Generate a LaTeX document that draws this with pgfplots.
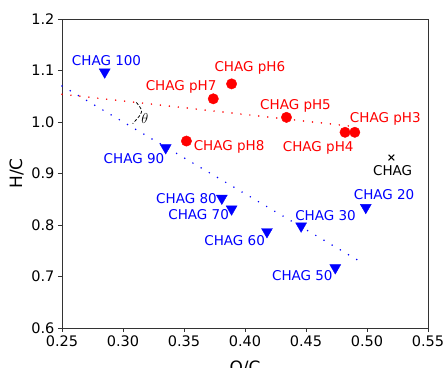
\documentclass[border=0pt]{standalone}
\usepackage{fontspec}
\setmainfont{DejaVu Sans}
\usepackage{pgfplots}
\pgfplotsset{compat=1.18}
\begin{document}
\begin{tikzpicture}[x=1pt,y=1pt]
\begin{axis}[
  scale only axis,
  width=366pt, height=309pt,
  xmin=0.25, xmax=0.55, ymin=0.6, ymax=1.2,
  xtick={0.25,0.30,...,0.55}, ytick={0.6,0.7,...,1.2},
  /pgf/number format/assume math mode=true,
  xticklabel style={/pgf/number format/.cd,fixed,fixed zerofill,precision=2},
  yticklabel style={/pgf/number format/.cd,fixed,fixed zerofill,precision=1},
  ticklabel style={font=\fontsize{14.5}{16}\selectfont},
  tick align=outside, tick pos=left,
  major tick length=4pt,
  tick style={black!80, line width=0.8pt},
  axis line style={black!80, line width=0.8pt},
  xlabel={O/C}, ylabel={H/C},
  label style={font=\fontsize{17}{19}\selectfont, inner sep=0pt},
  xlabel style={at={(rel axis cs:0.5,-0.130)}, anchor=center},
  ylabel style={at={(rel axis cs:-0.124,0.5)}, anchor=center},
  clip=false,
]
% trend lines
\addplot[blue, line width=1.7pt, line cap=round, dash pattern=on 0pt off 9.5pt] coordinates {(0.25,1.07) (0.498,0.724)};
\addplot[red, line width=1.7pt, line cap=round, dash pattern=on 0pt off 9pt] coordinates {(0.25,1.054) (0.49,0.991)};
% blue triangles
\addplot[only marks, mark=triangle*, mark options={rotate=180, blue, fill=blue}, mark size=6.3pt, blue] coordinates {
(0.285,1.097) (0.335,0.950) (0.381,0.852) (0.389,0.831) (0.418,0.787) (0.446,0.798) (0.474,0.717) (0.499,0.834)};
% red circles
\addplot[only marks, mark=*, mark options={red, fill=red}, mark size=5.2pt] coordinates {
(0.352,0.963) (0.374,1.045) (0.389,1.074) (0.434,1.009) (0.482,0.980) (0.490,0.980)};
% black x
\addplot[only marks, mark=x, mark options={black, line width=1pt}, mark size=4pt] coordinates {(0.520,0.931)};
% labels
\begin{scope}[every node/.style={font=\fontsize{13.5}{15}\selectfont, inner sep=0pt}]
\node[blue] at (axis cs:0.2865,1.120) {CHAG 100};
\node[blue] at (axis cs:0.309,0.928) {CHAG 90};
\node[blue] at (axis cs:0.352,0.851) {CHAG 80};
\node[blue] at (axis cs:0.362,0.821) {CHAG 70};
\node[blue] at (axis cs:0.3915,0.770) {CHAG 60};
\node[blue] at (axis cs:0.447,0.701) {CHAG 50};
\node[blue] at (axis cs:0.466,0.8185) {CHAG 30};
\node[blue] at (axis cs:0.514,0.860) {CHAG 20};
\node[red] at (axis cs:0.3476,1.0686) {CHAG pH7};
\node[red] at (axis cs:0.404,1.105) {CHAG pH6};
\node[red] at (axis cs:0.387,0.952) {CHAG pH8};
\node[red] at (axis cs:0.4414,1.0315) {CHAG pH5};
\node[red] at (axis cs:0.515,1.006) {CHAG pH3};
\node[red] at (axis cs:0.460,0.950) {CHAG pH4};
\node[black] at (axis cs:0.521,0.905) {CHAG};
\node[black, font=\fontsize{15}{16}\selectfont] at (axis cs:0.318,1.006) {$\theta$};
\end{scope}
\draw[black, line width=0.8pt, dash pattern=on 3pt off 2pt] (axis cs:0.311,1.038) .. controls (axis cs:0.317,1.02) .. (axis cs:0.308,0.997);
\coordinate (bl) at (rel axis cs:0,0);
\coordinate (tr) at (rel axis cs:1,1);
\end{axis}
\pgfresetboundingbox
\path[use as bounding box] ([xshift=-62pt,yshift=-40pt]bl) rectangle ([xshift=15pt,yshift=19pt]tr);
\end{tikzpicture}
\end{document}
